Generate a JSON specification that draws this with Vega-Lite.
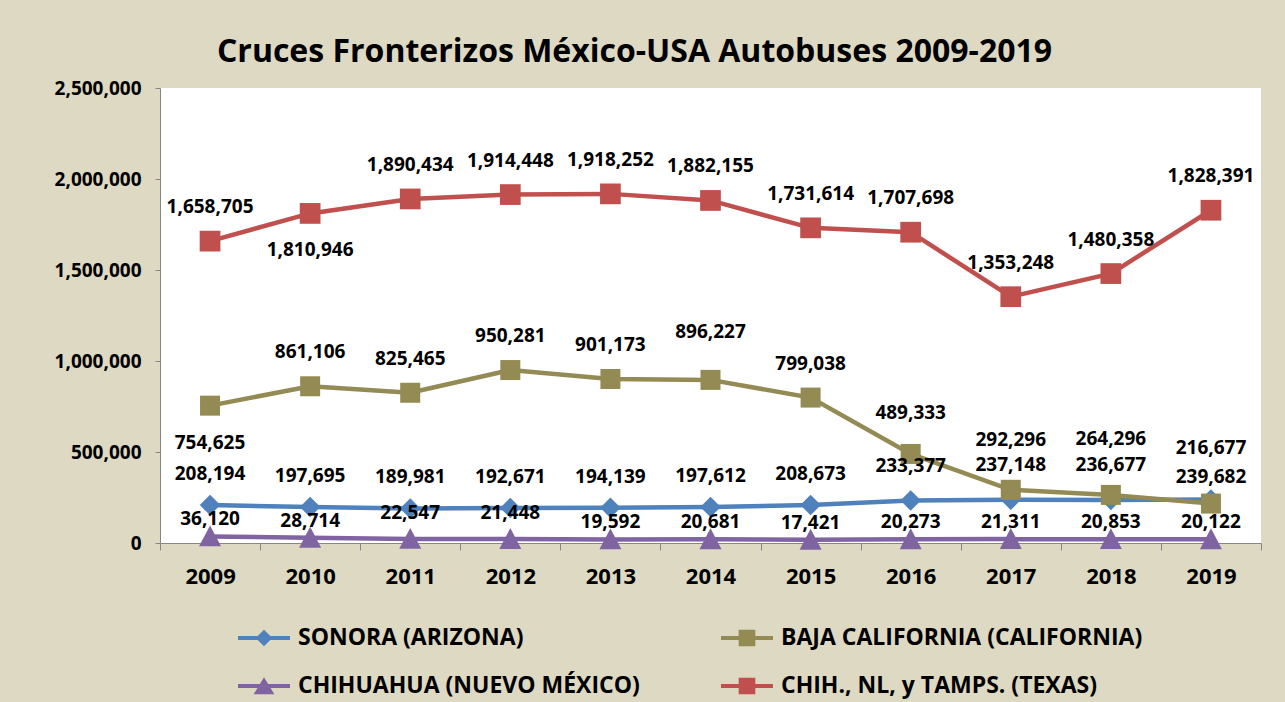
{
  "$schema": "https://vega.github.io/schema/vega-lite/v6.json",
  "width": 1101,
  "height": 455,
  "autosize": {"type": "none"},
  "padding": {"left": 160, "top": 88, "right": 24, "bottom": 159},
  "background": "#DDD9C3",
  "title": {"text": "Cruces Fronterizos México-USA Autobuses 2009-2019", "font": "Open Sans", "fontSize": 32, "fontWeight": "bold", "color": "black", "anchor": "middle", "dx": -76, "offset": 10},
  "config": {"view": {"stroke": null, "fill": "white"}, "font": "Open Sans"},
  "data": {"values": [
    {"year": 2009, "serie": "SONORA (ARIZONA)", "cruces": 208194},
    {"year": 2010, "serie": "SONORA (ARIZONA)", "cruces": 197695},
    {"year": 2011, "serie": "SONORA (ARIZONA)", "cruces": 189981},
    {"year": 2012, "serie": "SONORA (ARIZONA)", "cruces": 192671},
    {"year": 2013, "serie": "SONORA (ARIZONA)", "cruces": 194139},
    {"year": 2014, "serie": "SONORA (ARIZONA)", "cruces": 197612},
    {"year": 2015, "serie": "SONORA (ARIZONA)", "cruces": 208673},
    {"year": 2016, "serie": "SONORA (ARIZONA)", "cruces": 233377},
    {"year": 2017, "serie": "SONORA (ARIZONA)", "cruces": 237148},
    {"year": 2018, "serie": "SONORA (ARIZONA)", "cruces": 236677},
    {"year": 2019, "serie": "SONORA (ARIZONA)", "cruces": 239682},
    {"year": 2009, "serie": "BAJA CALIFORNIA (CALIFORNIA)", "cruces": 754625},
    {"year": 2010, "serie": "BAJA CALIFORNIA (CALIFORNIA)", "cruces": 861106},
    {"year": 2011, "serie": "BAJA CALIFORNIA (CALIFORNIA)", "cruces": 825465},
    {"year": 2012, "serie": "BAJA CALIFORNIA (CALIFORNIA)", "cruces": 950281},
    {"year": 2013, "serie": "BAJA CALIFORNIA (CALIFORNIA)", "cruces": 901173},
    {"year": 2014, "serie": "BAJA CALIFORNIA (CALIFORNIA)", "cruces": 896227},
    {"year": 2015, "serie": "BAJA CALIFORNIA (CALIFORNIA)", "cruces": 799038},
    {"year": 2016, "serie": "BAJA CALIFORNIA (CALIFORNIA)", "cruces": 489333},
    {"year": 2017, "serie": "BAJA CALIFORNIA (CALIFORNIA)", "cruces": 292296},
    {"year": 2018, "serie": "BAJA CALIFORNIA (CALIFORNIA)", "cruces": 264296},
    {"year": 2019, "serie": "BAJA CALIFORNIA (CALIFORNIA)", "cruces": 216677},
    {"year": 2009, "serie": "CHIHUAHUA (NUEVO MÉXICO)", "cruces": 36120},
    {"year": 2010, "serie": "CHIHUAHUA (NUEVO MÉXICO)", "cruces": 28714},
    {"year": 2011, "serie": "CHIHUAHUA (NUEVO MÉXICO)", "cruces": 22547},
    {"year": 2012, "serie": "CHIHUAHUA (NUEVO MÉXICO)", "cruces": 21448},
    {"year": 2013, "serie": "CHIHUAHUA (NUEVO MÉXICO)", "cruces": 19592},
    {"year": 2014, "serie": "CHIHUAHUA (NUEVO MÉXICO)", "cruces": 20681},
    {"year": 2015, "serie": "CHIHUAHUA (NUEVO MÉXICO)", "cruces": 17421},
    {"year": 2016, "serie": "CHIHUAHUA (NUEVO MÉXICO)", "cruces": 20273},
    {"year": 2017, "serie": "CHIHUAHUA (NUEVO MÉXICO)", "cruces": 21311},
    {"year": 2018, "serie": "CHIHUAHUA (NUEVO MÉXICO)", "cruces": 20853},
    {"year": 2019, "serie": "CHIHUAHUA (NUEVO MÉXICO)", "cruces": 20122},
    {"year": 2009, "serie": "CHIH., NL, y TAMPS. (TEXAS)", "cruces": 1658705},
    {"year": 2010, "serie": "CHIH., NL, y TAMPS. (TEXAS)", "cruces": 1810946},
    {"year": 2011, "serie": "CHIH., NL, y TAMPS. (TEXAS)", "cruces": 1890434},
    {"year": 2012, "serie": "CHIH., NL, y TAMPS. (TEXAS)", "cruces": 1914448},
    {"year": 2013, "serie": "CHIH., NL, y TAMPS. (TEXAS)", "cruces": 1918252},
    {"year": 2014, "serie": "CHIH., NL, y TAMPS. (TEXAS)", "cruces": 1882155},
    {"year": 2015, "serie": "CHIH., NL, y TAMPS. (TEXAS)", "cruces": 1731614},
    {"year": 2016, "serie": "CHIH., NL, y TAMPS. (TEXAS)", "cruces": 1707698},
    {"year": 2017, "serie": "CHIH., NL, y TAMPS. (TEXAS)", "cruces": 1353248},
    {"year": 2018, "serie": "CHIH., NL, y TAMPS. (TEXAS)", "cruces": 1480358},
    {"year": 2019, "serie": "CHIH., NL, y TAMPS. (TEXAS)", "cruces": 1828391}
  ]},
  "encoding": {
    "x": {"field": "year", "type": "ordinal", "scale": {"type": "band", "paddingInner": 0, "paddingOuter": 0},
      "axis": {"title": null, "tickBand": "extent", "labelFont": "Open Sans", "labelFontSize": 22, "labelFontWeight": "bold", "labelColor": "black", "labelAngle": 0, "labelPadding": 16, "tickSize": 7, "tickColor": "#868686", "domainColor": "#868686", "grid": false}},
    "y": {"field": "cruces", "type": "quantitative", "scale": {"domain": [0, 2500000], "nice": false},
      "axis": {"title": null, "values": [0, 500000, 1000000, 1500000, 2000000, 2500000], "labelExpr": "format(datum.value, ',')", "labelFont": "Open Sans", "labelFontSize": 19, "labelFontWeight": "bold", "labelColor": "black", "labelPadding": 14, "tickSize": 5, "tickColor": "#868686", "domainColor": "#868686", "grid": false}}
  },
  "layer": [
    {
      "mark": {"type": "point", "filled": true, "opacity": 0, "size": 2704},
      "encoding": {
        "color": {"field": "serie", "type": "nominal",
          "scale": {"domain": ["SONORA (ARIZONA)", "BAJA CALIFORNIA (CALIFORNIA)", "CHIHUAHUA (NUEVO MÉXICO)", "CHIH., NL, y TAMPS. (TEXAS)"], "range": ["#4F81BD", "#948A54", "#8064A2", "#C0504D"]},
          "legend": {"title": null, "orient": "none", "direction": "horizontal", "legendX": 78, "legendY": 524, "columns": 2, "columnPadding": 81, "rowPadding": 10, "padding": 0, "symbolSize": 2704, "symbolStrokeWidth": 0, "symbolOpacity": 1, "labelFont": "Open Sans", "labelFontSize": 23, "labelFontWeight": "bold", "labelColor": "black", "labelLimit": 800, "labelOffset": 8}},
        "shape": {"field": "serie", "type": "nominal",
          "scale": {"domain": ["SONORA (ARIZONA)", "BAJA CALIFORNIA (CALIFORNIA)", "CHIHUAHUA (NUEVO MÉXICO)", "CHIH., NL, y TAMPS. (TEXAS)"],
            "range": ["M-1,-0.08H1V0.08H-1Z M0,-0.32L0.32,0L0,0.32L-0.32,0Z", "M-1,-0.08H1V0.08H-1Z M-0.32,-0.32H0.32V0.32H-0.32Z", "M-1,-0.08H1V0.08H-1Z M0,-0.34L0.4,0.32H-0.4Z", "M-1,-0.08H1V0.08H-1Z M-0.32,-0.32H0.32V0.32H-0.32Z"]},
          "legend": {"title": null, "orient": "none", "direction": "horizontal", "legendX": 78, "legendY": 524, "columns": 2, "columnPadding": 81, "rowPadding": 10, "padding": 0, "symbolSize": 2704, "symbolStrokeWidth": 0, "symbolOpacity": 1, "labelFont": "Open Sans", "labelFontSize": 23, "labelFontWeight": "bold", "labelColor": "black", "labelLimit": 800, "labelOffset": 8}}
      }
    },
    {
      "mark": {"type": "line", "strokeWidth": 4.5},
      "encoding": {"color": {"field": "serie", "type": "nominal", "legend": null}}
    },
    {
      "transform": [{"filter": "datum.serie == 'SONORA (ARIZONA)'"}],
      "mark": {"type": "point", "filled": true, "opacity": 1, "shape": "diamond", "size": 420},
      "encoding": {"color": {"field": "serie", "type": "nominal", "legend": null}}
    },
    {
      "transform": [{"filter": "datum.serie == 'BAJA CALIFORNIA (CALIFORNIA)'"}],
      "mark": {"type": "point", "filled": true, "opacity": 1, "shape": "square", "size": 400},
      "encoding": {"color": {"field": "serie", "type": "nominal", "legend": null}}
    },
    {
      "transform": [{"filter": "datum.serie == 'CHIHUAHUA (NUEVO MÉXICO)'"}],
      "mark": {"type": "point", "filled": true, "opacity": 1, "shape": "M0,-1L1,0.9H-1Z", "size": 484},
      "encoding": {"color": {"field": "serie", "type": "nominal", "legend": null}}
    },
    {
      "transform": [{"filter": "datum.serie == 'CHIH., NL, y TAMPS. (TEXAS)'"}],
      "mark": {"type": "point", "filled": true, "opacity": 1, "shape": "square", "size": 430},
      "encoding": {"color": {"field": "serie", "type": "nominal", "legend": null}}
    },
    {
      "transform": [{"filter": "(datum.serie == 'CHIH., NL, y TAMPS. (TEXAS)' && datum.year != 2010) || (datum.serie == 'BAJA CALIFORNIA (CALIFORNIA)' && (datum.year == 2010 || datum.year == 2011 || datum.year == 2012 || datum.year == 2013 || datum.year == 2015))"}],
      "mark": {"type": "text", "dy": -34, "font": "Open Sans", "fontSize": 19, "fontWeight": "bold", "color": "black"},
      "encoding": {"text": {"field": "cruces", "type": "quantitative", "format": ","}}
    },
    {
      "transform": [{"filter": "(datum.serie == 'CHIH., NL, y TAMPS. (TEXAS)' && datum.year == 2010) || (datum.serie == 'BAJA CALIFORNIA (CALIFORNIA)' && datum.year == 2009)"}],
      "mark": {"type": "text", "dy": 37, "font": "Open Sans", "fontSize": 19, "fontWeight": "bold", "color": "black"},
      "encoding": {"text": {"field": "cruces", "type": "quantitative", "format": ","}}
    },
    {
      "transform": [{"filter": "datum.serie == 'BAJA CALIFORNIA (CALIFORNIA)' && datum.year == 2014"}],
      "mark": {"type": "text", "dy": -48, "font": "Open Sans", "fontSize": 19, "fontWeight": "bold", "color": "black"},
      "encoding": {"text": {"field": "cruces", "type": "quantitative", "format": ","}}
    },
    {
      "transform": [{"filter": "datum.serie == 'BAJA CALIFORNIA (CALIFORNIA)' && datum.year == 2017"}],
      "mark": {"type": "text", "dy": -50, "font": "Open Sans", "fontSize": 19, "fontWeight": "bold", "color": "black"},
      "encoding": {"text": {"field": "cruces", "type": "quantitative", "format": ","}}
    },
    {
      "transform": [{"filter": "datum.serie == 'BAJA CALIFORNIA (CALIFORNIA)' && datum.year == 2016"}],
      "mark": {"type": "text", "dy": -41, "font": "Open Sans", "fontSize": 19, "fontWeight": "bold", "color": "black"},
      "encoding": {"text": {"field": "cruces", "type": "quantitative", "format": ","}}
    },
    {
      "transform": [{"filter": "datum.serie == 'BAJA CALIFORNIA (CALIFORNIA)' && datum.year >= 2018"}],
      "mark": {"type": "text", "dy": -56, "font": "Open Sans", "fontSize": 19, "fontWeight": "bold", "color": "black"},
      "encoding": {"text": {"field": "cruces", "type": "quantitative", "format": ","}}
    },
    {
      "transform": [{"filter": "datum.serie == 'SONORA (ARIZONA)' && datum.year <= 2015"}],
      "mark": {"type": "text", "dy": -31, "font": "Open Sans", "fontSize": 19, "fontWeight": "bold", "color": "black"},
      "encoding": {"text": {"field": "cruces", "type": "quantitative", "format": ","}}
    },
    {
      "transform": [{"filter": "datum.serie == 'SONORA (ARIZONA)' && datum.year >= 2016 && datum.year <= 2018"}],
      "mark": {"type": "text", "dy": -35, "font": "Open Sans", "fontSize": 19, "fontWeight": "bold", "color": "black"},
      "encoding": {"text": {"field": "cruces", "type": "quantitative", "format": ","}}
    },
    {
      "transform": [{"filter": "datum.serie == 'SONORA (ARIZONA)' && datum.year == 2019"}],
      "mark": {"type": "text", "dy": -22, "font": "Open Sans", "fontSize": 19, "fontWeight": "bold", "color": "black"},
      "encoding": {"text": {"field": "cruces", "type": "quantitative", "format": ","}}
    },
    {
      "transform": [{"filter": "datum.serie == 'CHIHUAHUA (NUEVO MÉXICO)' && datum.year != 2011 && datum.year != 2012"}],
      "mark": {"type": "text", "dy": -17, "font": "Open Sans", "fontSize": 19, "fontWeight": "bold", "color": "black"},
      "encoding": {"text": {"field": "cruces", "type": "quantitative", "format": ","}}
    },
    {
      "transform": [{"filter": "datum.serie == 'CHIHUAHUA (NUEVO MÉXICO)' && (datum.year == 2011 || datum.year == 2012)"}],
      "mark": {"type": "text", "dy": -26, "font": "Open Sans", "fontSize": 19, "fontWeight": "bold", "color": "black"},
      "encoding": {"text": {"field": "cruces", "type": "quantitative", "format": ","}}
    }
  ]
}
